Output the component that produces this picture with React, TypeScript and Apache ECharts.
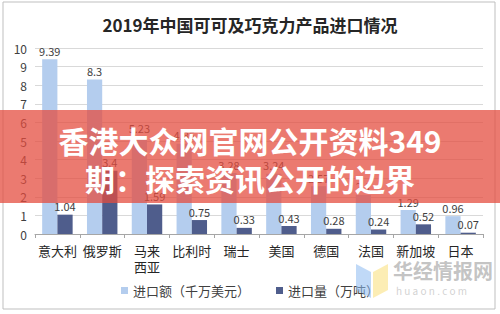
import React, { useEffect, useRef } from "react";
import * as echarts from "echarts";

const categories = ["意大利", "俄罗斯", "马来\n西亚", "比利时", "瑞士", "美国", "德国", "法国", "新加坡", "日本"];
const importValue = [9.39, 8.3, 5.23, 4.85, 3.28, 3.24, 2.57, 2.1, 1.29, 0.96];
const importVolume = [1.04, 3.4, 1.59, 0.75, 0.33, 0.43, 0.28, 0.24, 0.52, 0.07];
const seriesNames = ["进口额（千万美元）", "进口量（万吨）"];
const titleText = "2019年中国可可及巧克力产品进口情况";
const bannerLines = ["香港大众网官网公开资料349", "期：探索资讯公开的边界"];

const FONT = "'Noto Sans CJK SC', 'Noto Sans', sans-serif";

export default function App() {
  const ref = useRef<HTMLDivElement>(null);
  useEffect(() => {
    if (!ref.current) return;
    const chart = echarts.init(ref.current, undefined, { renderer: "svg" });
    const labelStyle = {
      show: true,
      position: "top" as const,
      fontSize: 11,
      color: "#404040",
      fontFamily: FONT,
      distance: 3,
    };
    chart.setOption({
      animation: false,
      backgroundColor: "#ffffff",
      title: {
        text: titleText,
        left: "center",
        top: 11,
        textStyle: { fontSize: 17, fontWeight: "bold", color: "#262626", fontFamily: FONT },
      },
      grid: { left: 35, right: 17, top: 48, bottom: 80 },
      legend: {
        bottom: 12,
        left: "center",
        itemWidth: 7,
        itemHeight: 7,
        itemGap: 26,
        icon: "rect",
        textStyle: { fontSize: 13, color: "#404040", fontFamily: FONT },
        data: seriesNames,
      },
      xAxis: {
        type: "category",
        data: categories,
        axisLine: { show: true, lineStyle: { color: "#a6a6a6" } },
        axisTick: { show: true, length: 4, lineStyle: { color: "#a6a6a6" } },
        axisLabel: { fontSize: 13, color: "#262626", fontFamily: FONT, margin: 8, lineHeight: 16, interval: 0 },
      },
      yAxis: {
        type: "value",
        min: 0,
        max: 10,
        interval: 1,
        axisLine: { show: false },
        axisTick: { show: false },
        axisLabel: { fontSize: 12, color: "#404040", fontFamily: FONT, margin: 8 },
        splitLine: { lineStyle: { color: "#d9d9d9" } },
      },
      series: [
        {
          name: seriesNames[0],
          type: "bar",
          data: importValue,
          barGap: "0%",
          barCategoryGap: "32%",
          itemStyle: { color: "#b4cdee" },
          label: labelStyle,
        },
        {
          name: seriesNames[1],
          type: "bar",
          data: importVolume,
          itemStyle: { color: "#4f5d8c" },
          label: labelStyle,
        },
      ],
      graphic: [
        {
          type: "rect",
          z: 100,
          shape: { x: 3, y: 2, width: 492, height: 307 },
          style: { fill: "none", stroke: "#bfbfbf", lineWidth: 1 },
        },
        {
          type: "polygon",
          z: 90,
          shape: { points: [[356, 264], [371, 272], [371, 298], [356, 290]] },
          style: { fill: "rgba(140,185,240,0.55)" },
        },
        {
          type: "polygon",
          z: 90,
          shape: { points: [[373, 272], [388, 264], [388, 290], [373, 298]] },
          style: { fill: "rgba(250,225,130,0.6)" },
        },
        {
          type: "text",
          z: 90,
          x: 393,
          y: 260,
          style: { text: "华经情报网", fontSize: 20, fontWeight: "bold", fill: "rgba(170,170,170,0.7)", fontFamily: FONT },
        },
        {
          type: "text",
          z: 90,
          x: 396,
          y: 285,
          style: { text: "h u a o n . c o m", fontSize: 10, fill: "rgba(190,190,190,0.7)", fontFamily: FONT },
        },
        {
          type: "rect",
          z: 110,
          shape: { x: 0, y: 110, width: 500, height: 93 },
          style: { fill: "rgba(228,76,62,0.74)" },
        },
        {
          type: "text",
          z: 111,
          x: 250,
          y: 140,
          style: {
            text: bannerLines[0],
            fontSize: 30,
            fontWeight: "bold",
            fill: "#ffffff",
            fontFamily: FONT,
            align: "center",
            verticalAlign: "middle",
          },
        },
        {
          type: "text",
          z: 111,
          x: 250,
          y: 178,
          style: {
            text: bannerLines[1],
            fontSize: 30,
            fontWeight: "bold",
            fill: "#ffffff",
            fontFamily: FONT,
            align: "center",
            verticalAlign: "middle",
          },
        },
      ],
    });
    return () => chart.dispose();
  }, []);
  return <div ref={ref} style={{ position: "fixed", left: 0, top: 0, width: 500, height: 314 }} />;
}
